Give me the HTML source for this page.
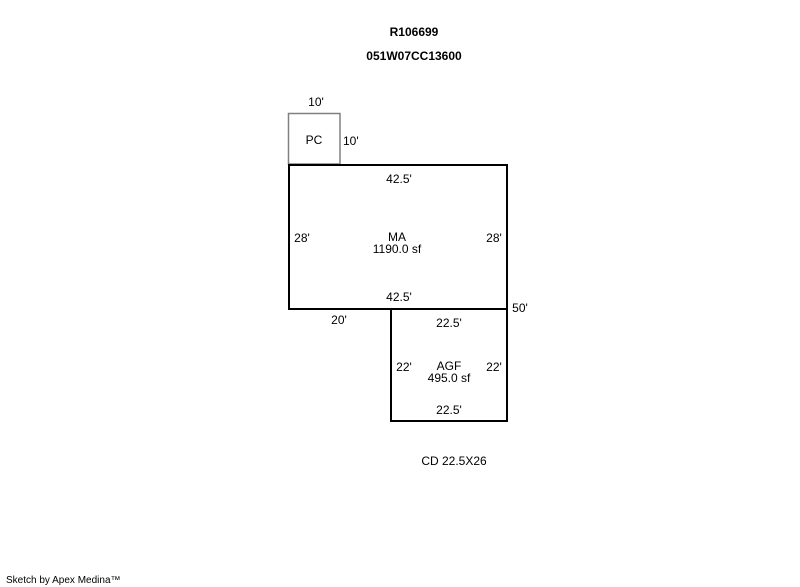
<!DOCTYPE html>
<html><head><meta charset="utf-8"><style>
html,body{margin:0;padding:0;background:#fff;}
svg{display:block;}
text{font-family:"Liberation Sans",Arial,sans-serif;font-size:12px;fill:#000;}
</style></head><body>
<svg width="800" height="587" viewBox="0 0 800 587" xmlns="http://www.w3.org/2000/svg">
<text x="414" y="36" text-anchor="middle" font-weight="bold">R106699</text>
<text x="414" y="60" text-anchor="middle" font-weight="bold">051W07CC13600</text>
<rect x="288.5" y="113.5" width="51.5" height="50.5" fill="none" stroke="#808080" stroke-width="1.5"/>
<rect x="289" y="165" width="218" height="144" fill="none" stroke="#000" stroke-width="2"/>
<polyline points="391,309 391,421 507,421 507,309" fill="none" stroke="#000" stroke-width="2"/>
<text x="316" y="106" text-anchor="middle">10'</text>
<text x="314" y="144" text-anchor="middle">PC</text>
<text x="343" y="145">10'</text>
<text x="399" y="183" text-anchor="middle">42.5'</text>
<text x="302" y="242" text-anchor="middle">28'</text>
<text x="494" y="242" text-anchor="middle">28'</text>
<text x="397" y="241" text-anchor="middle">MA</text>
<text x="397" y="253" text-anchor="middle">1190.0 sf</text>
<text x="399" y="301" text-anchor="middle">42.5'</text>
<text x="339" y="324" text-anchor="middle">20'</text>
<text x="520" y="312" text-anchor="middle">50'</text>
<text x="449" y="327" text-anchor="middle">22.5'</text>
<text x="404" y="371" text-anchor="middle">22'</text>
<text x="494" y="371" text-anchor="middle">22'</text>
<text x="449" y="370" text-anchor="middle">AGF</text>
<text x="449" y="382" text-anchor="middle">495.0 sf</text>
<text x="449" y="414" text-anchor="middle">22.5'</text>
<text x="454" y="465" text-anchor="middle">CD 22.5X26</text>
<text x="6" y="583" style="font-size:10px">Sketch by Apex Medina™</text>
</svg>
</body></html>
